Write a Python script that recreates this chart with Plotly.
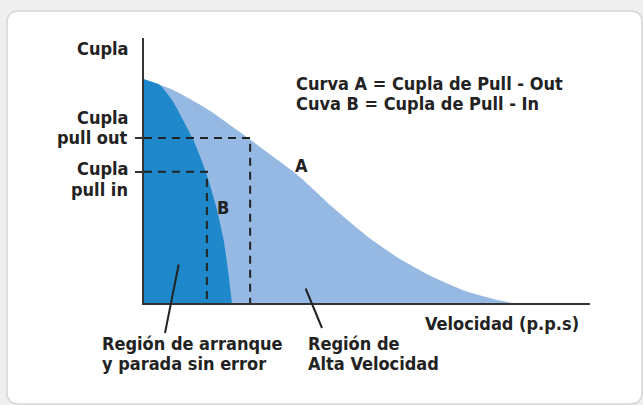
import plotly.graph_objects as go

# curve A (pull-out torque) and curve B (pull-in torque)
speed_a = [0, 6.6, 14.1, 21.5, 29.0, 35.0, 42.4, 50.0, 57.4, 64.8, 72.4, 79.8, 82.7]
torque_a = [84.4, 80.3, 73.3, 64.5, 55.2, 47.5, 36.0, 25.2, 16.6, 9.8, 4.3, 0.9, 0]

speed_b = [0, 3.6, 6.6, 8.8, 11.1, 13.9, 16.1, 17.8, 18.9, 19.7]
torque_b = [84.4, 82.2, 75.8, 68.9, 61.4, 49.4, 36.9, 24.3, 11.7, 0]

pull_out = 62.3
pull_out_speed = 23.8
pull_in = 49.5
pull_in_speed = 14.1

LIGHT = "#95b9e3"
DARK = "#1e88ca"
INK = "#222222"
FONT = dict(family="DejaVu Sans Condensed, DejaVu Sans, sans-serif", size=18, color=INK)

W, H = 643, 405
L, R, T, B = 144, 53, 38, 102


def px_x(p):
    return (p - L) / (W - L - R)


def px_y(p):
    return (H - B - p) / (H - T - B)


fig = go.Figure()

fig.add_trace(go.Scatter(x=speed_a, y=torque_a, mode="lines", fill="tozeroy",
                         fillcolor=LIGHT, line=dict(width=0, shape="spline", smoothing=0.6),
                         hoverinfo="skip"))
fig.add_trace(go.Scatter(x=speed_b, y=torque_b, mode="lines", fill="tozeroy",
                         fillcolor=DARK, line=dict(width=0, shape="spline", smoothing=0.5),
                         hoverinfo="skip"))

# dashed guides
for sp, tq in [(pull_out_speed, pull_out), (pull_in_speed, pull_in)]:
    fig.add_trace(go.Scatter(x=[0, sp, sp], y=[tq, tq, 0], mode="lines",
                             line=dict(color=INK, width=2, dash="8px,6px"),
                             hoverinfo="skip"))

# rounded card behind everything
x0, x1 = px_x(7), px_x(642)
y0, y1 = px_y(404), px_y(11)
rx, ry = 12 / (W - L - R), 12 / (H - T - B)
path = (f"M {x0 + rx} {y1} L {x1 - rx} {y1} Q {x1} {y1} {x1} {y1 - ry} "
        f"L {x1} {y0 + ry} Q {x1} {y0} {x1 - rx} {y0} L {x0 + rx} {y0} "
        f"Q {x0} {y0} {x0} {y0 + ry} L {x0} {y1 - ry} Q {x0} {y1} {x0 + rx} {y1} Z")
fig.add_shape(type="path", path=path, xref="paper", yref="paper", layer="below",
              fillcolor="white", line=dict(color="#d6d6d6", width=1.5))

# (text, x px, y px, anchor)
labels = [
    ("Cupla", 130, 48, "right"),
    ("Cupla", 130, 117, "right"),
    ("pull out", 130, 137, "right"),
    ("Cupla", 130, 168, "right"),
    ("pull in", 130, 189, "right"),
    ("Curva A = Cupla de Pull - Out", 294, 83, "left"),
    ("Cuva B = Cupla de Pull - In", 294, 104, "left"),
    ("A", 301, 165, "center"),
    ("B", 223, 207, "center"),
    ("Velocidad (p.p.s)", 581, 323, "right"),
    ("Región de arranque", 100, 343, "left"),
    ("y parada sin error", 100, 363, "left"),
    ("Región de", 306, 343, "left"),
    ("Alta Velocidad", 306, 363, "left"),
]
for text, x, y, xa in labels:
    fig.add_annotation(x=px_x(x), y=px_y(y), xref="paper", yref="paper",
                       text=f"<b>{text}</b>", showarrow=False,
                       xanchor=xa, yanchor="middle", font=FONT)

# pointer lines to the two regions (head px, tail px)
for (hx, hy), (tx, ty) in [((165, 333), (179, 263)), ((322, 328), (305, 287))]:
    fig.add_annotation(x=px_x(hx), y=px_y(hy), xref="paper", yref="paper",
                       ax=tx - hx, ay=ty - hy, text="", showarrow=True,
                       arrowhead=0, arrowwidth=2, arrowcolor=INK)

fig.update_xaxes(range=[0, 100], showline=True, linecolor="#333333", linewidth=2,
                 showgrid=False, zeroline=False, showticklabels=False, ticks="")
fig.update_yaxes(range=[0, 100], showline=True, linecolor="#333333", linewidth=2,
                 showgrid=False, zeroline=False, showticklabels=False,
                 tickvals=[pull_in, pull_out], ticks="outside", ticklen=7,
                 tickwidth=2, tickcolor="#333333")

fig.update_layout(width=W, height=H, margin=dict(l=L, r=R, t=T, b=B),
                  paper_bgcolor="#efefef", plot_bgcolor="rgba(0,0,0,0)",
                  showlegend=False, font=FONT)

fig.write_html("out.html", config={"displayModeBar": False},
               post_script="document.body.style.margin='0';")
